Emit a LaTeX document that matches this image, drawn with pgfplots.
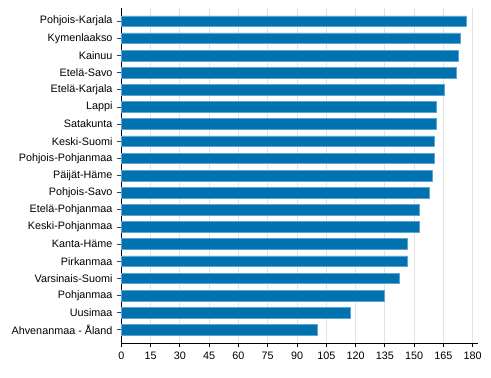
\documentclass[border=0pt]{standalone}
\usepackage{pgfplots}
\pgfplotsset{compat=1.18}
\usepackage{fontspec}
\setmainfont{Liberation Sans}
\definecolor{barblue}{HTML}{0072B0}
\definecolor{baredge}{HTML}{5FA3D3}
\definecolor{gridgray}{HTML}{E3E3E3}
\begin{document}
\fontsize{10.8bp}{12bp}\selectfont
\begin{tikzpicture}
\useasboundingbox (-121.3bp,-35bp) rectangle (369.7bp,343bp);
\begin{axis}[
  scale only axis,
  width=356.7bp, height=335bp,
  xmin=0, xmax=182.7,
  ymin=-0.77, ymax=18.77,
  y dir=reverse,
  axis x line*=bottom, axis y line*=left,
  axis line style={black, line width=0.8pt},
  xtick={0,15,...,180},
  ytick={0,...,18},
  yticklabels={Pohjois-Karjala,Kymenlaakso,Kainuu,Etelä-Savo,Etelä-Karjala,Lappi,Satakunta,Keski-Suomi,Pohjois-Pohjanmaa,Päijät-Häme,Pohjois-Savo,Etelä-Pohjanmaa,Keski-Pohjanmaa,Kanta-Häme,Pirkanmaa,Varsinais-Suomi,Pohjanmaa,Uusimaa,Ahvenanmaa - Åland},
  xmajorgrids, major grid style={gridgray, line width=0.8pt},
  tick align=outside,
  major tick length=4bp,
  tick style={black!75, line width=0.8pt},
  x tick style={black},
  /pgf/number format/assume math mode=true,
  ticklabel style={font=\fontsize{10.8bp}{12bp}\selectfont},
  xticklabel style={yshift=-1bp},
  yticklabel style={xshift=-1bp},
  clip=false,
]
\addplot[xbar, bar width=10.7bp, fill=barblue, draw=baredge, line width=0.6pt] coordinates {
(176.6,0) (173.7,1) (172.7,2) (171.5,3) (165.5,4) (161.4,5) (161.4,6) (160.5,7) (160.5,8) (159.5,9)
(157.5,10) (152.5,11) (152.5,12) (146.5,13) (146.5,14) (142.4,15) (134.6,16) (117.5,17) (100.6,18)
};
\end{axis}
\end{tikzpicture}
\end{document}
